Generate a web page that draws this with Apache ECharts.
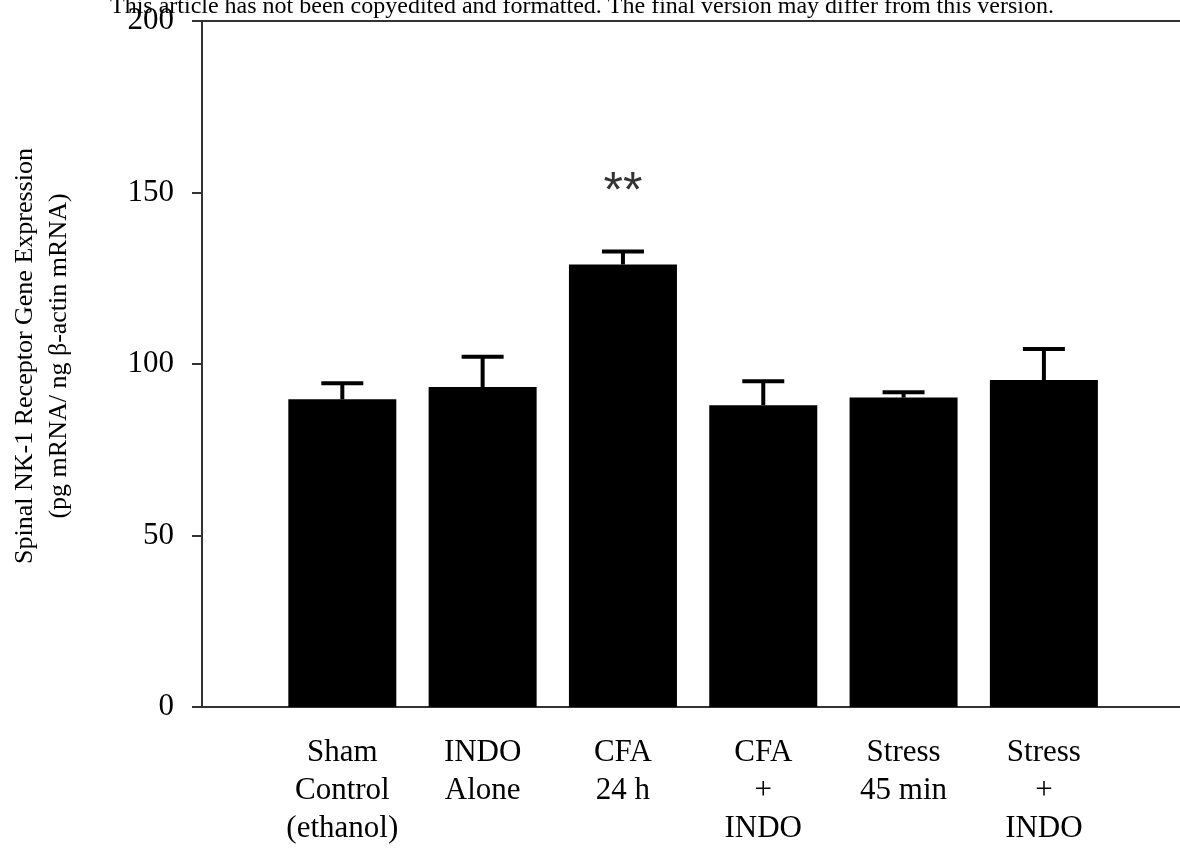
<!DOCTYPE html>
<html><head><meta charset="utf-8">
<script src="https://cdn.jsdelivr.net/npm/echarts@6/dist/echarts.min.js"></script>
<style>html,body{margin:0;padding:0;background:#fff}#c{width:1180px;height:848px}</style>
</head><body><div id="c"></div>
<script>
const header = 'This article has not been copyedited and formatted. The final version may differ from this version.';
const categories = ['Sham\nControl\n(ethanol)', 'INDO\nAlone', 'CFA\n24 h', 'CFA\n+\nINDO', 'Stress\n45 min', 'Stress\n+\nINDO'];
const means = [89.7, 93.3, 129.0, 88.0, 90.2, 95.3];
const errors = [4.7, 8.8, 3.8, 7.0, 1.6, 9.1];
const significance = ['', '', '**', '', '', ''];
const yMin = 0, yMax = 200, yStep = 50;
const yTitle = 'Spinal NK-1 Receptor Gene Expression\n(pg mRNA/ ng \u03b2-actin mRNA)';

const serif = 'Liberation Serif';
const chart = echarts.init(document.getElementById('c'), null, {renderer: 'canvas'});
const axisColor = '#333';

const option = {
  animation: false,
  backgroundColor: '#fff',
  title: {
    text: header, left: 105, top: -10,
    textStyle: {fontFamily: serif, fontSize: 24, fontWeight: 'normal', color: '#000'}
  },
  grid: {left: 200, right: 0, top: 21, bottom: 140},
  xAxis: [{
    type: 'value', min: -1, max: 5.97, interval: 1,
    axisLine: {show: true, onZero: false, lineStyle: {color: axisColor, width: 2}},
    axisTick: {show: false}, splitLine: {show: false},
    axisLabel: {
      showMaxLabel: false, showMinLabel: false,
      formatter: v => { const i = Math.round(v); return (Math.abs(v - i) < 1e-6 && i >= 0 && i < categories.length) ? categories[i] : ''; },
      fontFamily: serif, fontSize: 31, lineHeight: 38, color: '#000', margin: 27, verticalAlign: 'top'
    }
  }, {
    type: 'value', position: 'top', min: -1, max: 5.97,
    axisLine: {show: true, onZero: false, lineStyle: {color: axisColor, width: 2}},
    axisTick: {show: false}, axisLabel: {show: false}, splitLine: {show: false}
  }],
  yAxis: {
    type: 'value', min: yMin, max: yMax, interval: yStep,
    axisLine: {show: true, onZero: false, lineStyle: {color: axisColor, width: 2}},
    axisTick: {show: true, length: 10, lineStyle: {color: axisColor, width: 2}},
    splitLine: {show: false},
    axisLabel: {fontFamily: serif, fontSize: 31, color: '#000', margin: 28},
    name: yTitle, nameLocation: 'middle', nameGap: 126, nameRotate: 90,
    nameTextStyle: {fontFamily: serif, fontSize: 26, lineHeight: 34, color: '#000', align: 'center', padding: [0, 0, 0, 16]}
  },
  series: [{
    type: 'bar', xAxisIndex: 0, barWidth: 108,
    itemStyle: {color: '#000'},
    data: means.map((m, i) => [i, m]),
    z: 2
  }, {
    type: 'custom', xAxisIndex: 0, z: 3,
    data: means.map((m, i) => [i, m, m + errors[i]]),
    renderItem: (params, api) => {
      const base = api.coord([api.value(0), api.value(1)]);
      const top = api.coord([api.value(0), api.value(2)]);
      const half = 21;
      return {
        type: 'group',
        children: [
          {type: 'line', shape: {x1: base[0], y1: base[1], x2: top[0], y2: top[1]}, style: {stroke: '#000', lineWidth: 4}},
          {type: 'line', shape: {x1: top[0] - half, y1: top[1], x2: top[0] + half, y2: top[1]}, style: {stroke: '#000', lineWidth: 4}}
        ]
      };
    }
  }, {
    type: 'scatter', xAxisIndex: 0, symbolSize: 0, z: 4,
    data: significance.map((s, i) => [i, means[i] + errors[i], s]).filter(d => d[2] !== ''),
    label: {
      show: true, position: 'top', distance: 33,
      formatter: p => p.value[2],
      fontFamily: 'Liberation Sans', fontSize: 50, color: '#000'
    }
  }]
};
chart.setOption(option);
</script>
</body></html>
